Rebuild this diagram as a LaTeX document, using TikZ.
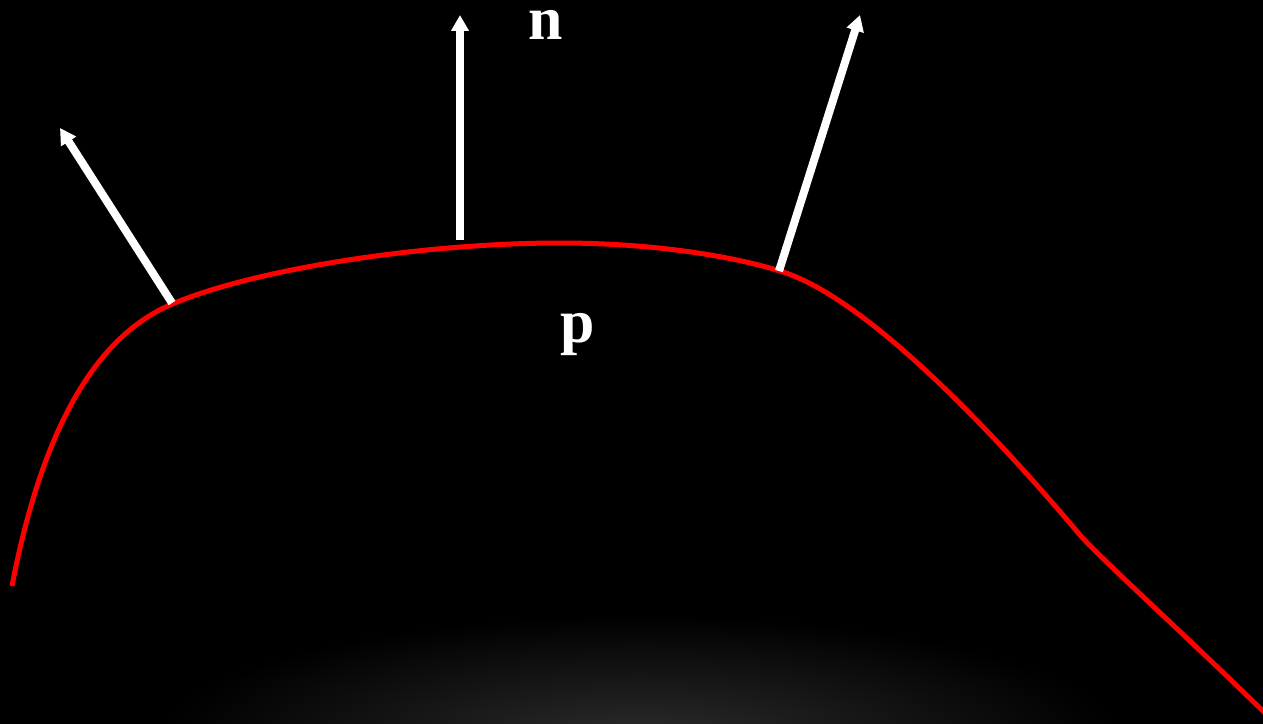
\documentclass[tikz,border=0pt]{standalone}
\usepackage{fontspec}
\setmainfont{Liberation Serif}
\usetikzlibrary{arrows.meta}
\tikzset{
  curveline/.style={draw={rgb,255:red,255;green,0;blue,0}, line width=5bp},
  normalvec/.style={draw=white, line width=8bp, -{Triangle[width=17bp,length=16bp]}},
  lbl/.style={text=white, inner sep=0pt, anchor=base, font=\bfseries\fontsize{62}{62}\selectfont}
}
\begin{document}
\begin{tikzpicture}[x=1bp,y=-1bp]
\useasboundingbox (0,0) rectangle (1263,724);
\fill[black] (0,0) rectangle (1263,724);
\begin{scope}
\clip (0,0) rectangle (1263,724);
\shade[inner color={rgb,255:red,44;green,44;blue,44}, outer color=black, draw=none] (640,740) ellipse [x radius=480, y radius=125];
\end{scope}
% curve
\coordinate (c0) at (12,586);
\coordinate (c1) at (170,305);
\coordinate (c2) at (560,243);
\coordinate (c3) at (783,272);
\coordinate (c4) at (1080,535);
\coordinate (c5) at (1266,714);
\draw[curveline] (c0) .. controls (40,440) and (90,340) .. (c1)
  .. controls (250,270) and (420,243) .. (c2)
  .. controls (660,243) and (740,258) .. (c3)
  .. controls (870,300) and (1000,440) .. (c4)
  .. controls (1100,558) and (1180,630) .. (c5);
% normals
\coordinate (b1) at (172,303);
\coordinate (t1) at (60,128);
\coordinate (b2) at (460,240);
\coordinate (t2) at (460,15);
\coordinate (b3) at (779,271);
\coordinate (t3) at (860,15);
\draw[normalvec] (b1) -- (t1);
\draw[normalvec] (b2) -- (t2);
\draw[normalvec] (b3) -- (t3);
\node[lbl] (n) at (545.5,40) {n};
\node[lbl] (p) at (577.5,342) {p};
\end{tikzpicture}
\end{document}
